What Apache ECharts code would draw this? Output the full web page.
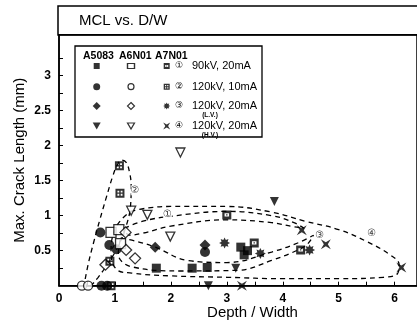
<!DOCTYPE html>
<html><head><meta charset="utf-8">
<script src="https://cdn.jsdelivr.net/npm/echarts@6/dist/echarts.min.js"></script>
<style>html,body{margin:0;padding:0;background:#fff}#c{width:417px;height:329px}</style>
</head><body><div id="c"></div>
<script>
// ---------- tick labels ----------
const xTickLabels = [0, 1, 2, 3, 4, 5, 6];
const xTickValues = [0.5, 1, 1.5, 2, 2.5, 3, 3.5, 4, 4.5, 5, 5.5, 6];
const yTickLabels = [0.5, 1, 1.5, 2, 2.5, 3];
const yTickValues = [0.25, 0.5, 0.75, 1, 1.25, 1.5, 1.75, 2, 2.25, 2.5, 2.75, 3, 3.25];

// ---------- data [Depth/Width, Max crack length] ----------
// A5083 (filled)
const a5083_c1 = [[1.74,0.25],[2.38,0.25],[2.65,0.26],[3.25,0.55],[3.31,0.44],[3.37,0.5]];
const a5083_c2 = [[0.74,0.76],[0.90,0.58],[1.03,0.52],[0.76,0.0],[0.86,0.0],[2.61,0.48]];
const a5083_c3 = [[1.72,0.55],[2.61,0.58]];
const a5083_c4 = [[3.85,1.20],[3.16,0.25],[2.67,0.0]];
// A6N01 (hollow)
const a6n01_c1 = [[0.93,0.76],[1.07,0.80],[1.10,0.60]];
const a6n01_c2 = [[0.41,0.0],[0.52,0.0]];
const a6n01_c3 = [[1.19,0.76],[1.20,0.51],[1.36,0.39],[0.83,0.30]];
const a6n01_c4 = [[2.17,1.90],[1.29,1.07],[1.58,1.01],[1.99,0.70]];
// A7N01 (patterned)
const a7n01_c1 = [[3.00,1.01],[3.49,0.61],[4.32,0.51]];
const a7n01_c2 = [[1.08,1.71],[1.09,1.32],[0.91,0.35],[0.93,0.0]];
const a7n01_c3 = [[2.96,0.61],[3.60,0.46],[4.48,0.51]];
const a7n01_c4 = [[4.34,0.79],[4.77,0.59],[6.12,0.26],[3.27,0.0]];

// ---------- dashed grouping curves ----------
const curve2 = [[0.44,-0.03],[0.52,0.3],[0.62,0.62],[0.73,0.94],[0.85,1.27],[0.96,1.56],[1.04,1.72],[1.12,1.79],[1.2,1.76],[1.26,1.62],[1.29,1.42],[1.28,1.15],[1.2,0.85],[1.05,0.55],[0.86,0.3],[0.7,0.12],[0.58,0.01],[0.48,-0.03],[0.44,-0.03]];
const curve1 = [[1.17,0.82],[1.5,0.92],[2.0,0.99],[3.0,1.06],[3.8,1.0],[4.2,0.9],[4.38,0.82],[4.2,0.84],[3.8,0.9],[3.0,0.94],[2.0,0.85],[1.5,0.75],[1.25,0.72],[1.17,0.82]];
const curve3 = [[1.1,0.68],[1.4,0.63],[1.72,0.55],[2.3,0.36],[3.0,0.33],[3.8,0.48],[4.3,0.62],[4.55,0.72],[4.45,0.6],[4.3,0.52],[3.8,0.36],[3.2,0.22],[2.2,0.21],[1.3,0.27],[1.06,0.45],[1.1,0.68]];
const curve4 = [[1.28,1.06],[1.6,1.11],[2.0,1.13],[3.0,1.13],[3.8,1.05],[4.4,0.92],[5.0,0.8],[5.5,0.63],[5.9,0.45],[6.08,0.3],[6.05,0.17],[5.8,0.12],[5.0,0.1],[4.0,0.1],[3.0,0.12],[2.0,0.14],[1.3,0.18],[1.02,0.24],[0.93,0.5],[1.03,0.85],[1.28,1.06]];
const curveLabels = [['②',1.36,1.36],['①',1.94,1.01],['③',4.66,0.72],['④',5.59,0.75]];

// ---------- legend text ----------
const legendHeads = ['A5083','A6N01','A7N01'];
const legendNums = ['①','②','③','④'];
const legendTexts = ['90kV, 20mA','120kV, 10mA','120kV, 20mA','120kV, 20mA'];
const legendSubs = ['','','(L.V.)','(H.V.)'];

// ---------- symbols ----------
const SYM = {
  p1: 'path://M0,0H10V10H0Z M2.5,3.2V6.8H7.5V3.2Z M4.2,4.3H5.8V5.7H4.2Z',
  p2: 'path://M0,0H10V10H0Z M2.2,2.2V4.2H4.2V2.2Z M5.8,2.2V4.2H7.8V2.2Z M2.2,5.8V7.8H4.2V5.8Z M5.8,5.8V7.8H7.8V5.8Z',
  p3: 'path://M10,5L7.77,6.15L8.54,8.54L6.15,7.77L5,10L3.85,7.77L1.46,8.54L2.23,6.15L0,5L2.23,3.85L1.46,1.46L3.85,2.23L5,0L6.15,2.23L8.54,1.46L7.77,3.85Z',
  p4: 'path://M0,0L5,3L10,0L7,5L10,10L5,7L0,10L3,5Z'
};
const styles = [
  // [symbol, size, hollow, rotate]
  [['rect',9,false,0],['circle',10,false,0],['diamond',11,false,0],['triangle',9,false,180]],
  [['rect',10,true,0],['circle',9,true,0],['diamond',11,true,0],['triangle',9,true,180]],
  [[SYM.p1,9,false,0],[SYM.p2,9,false,0],[SYM.p3,11,false,0],[SYM.p4,10,false,0]]
];
const legendSizes = [[6,7,8,[8,7]],[[7,5],6,7,[7,6]],[6,6,7,7]];
const groups = [
  [a5083_c1,a5083_c2,a5083_c3,a5083_c4],
  [a6n01_c1,a6n01_c2,a6n01_c3,a6n01_c4],
  [a7n01_c1,a7n01_c2,a7n01_c3,a7n01_c4]
];

const FONT = 'Liberation Sans, Arial, sans-serif';
const series = [];
function curveSeries(d){
  return {type:'line', data:d, smooth:0.4, symbol:'none', silent:true, z:1, clip:true,
    lineStyle:{color:'#000', width:1.3, type:[5,4]}};
}
[curve1,curve2,curve3,curve4].forEach(c=>series.push(curveSeries(c)));
series.push({type:'scatter', data:curveLabels.map(l=>({name:l[0], value:[l[1],l[2]]})),
  symbolSize:0, silent:true, z:3,
  label:{show:true, position:'inside', formatter:'{b}', fontFamily:'DejaVu Sans', fontSize:10,
    color:'#000', backgroundColor:'#fff', padding:[0,0]}});

function mkScatter(data, st, xi, yi, z, bw){
  return {type:'scatter', data:data, xAxisIndex:xi, yAxisIndex:yi, symbol:st[0], symbolSize:st[1],
    symbolRotate:st[3], silent:true, z:z,
    itemStyle: st[2] ? {color:'#fff', borderColor:'#000', borderWidth:bw} : {color:'#000'}};
}
groups.forEach((g,gi)=>g.forEach((d,ci)=>series.push(mkScatter(d, styles[gi][ci], 0, 0, 5, 1.3))));

// legend symbols in a small helper grid (cols: materials, rows: conditions)
const LG = {left:75, top:46, width:187, height:91};
const legColX = [21.7, 56, 91.7];
const legRowY = [20, 40.7, 60, 80];
groups.forEach((g,gi)=>g.forEach((d,ci)=>{
  const st = styles[gi][ci].slice();
  st[1] = legendSizes[gi][ci];
  series.push(mkScatter([[legColX[gi], legRowY[ci]]], st, 1, 1, 5, 1.2));
}));

const graphic = [
  {type:'rect', shape:{x:58, y:6, width:380, height:29}, style:{fill:'none', stroke:'#000', lineWidth:1.5}, z:10},
  {type:'text', x:79, y:21, style:{text:'MCL vs. D/W', font:'15px '+FONT, fill:'#000', textVerticalAlign:'middle'}, z:10},
  {type:'rect', shape:{x:LG.left, y:LG.top, width:LG.width, height:LG.height}, style:{fill:'#fff', stroke:'#000', lineWidth:1.3}, z:2}
];
const headX = [83, 119, 155];
legendHeads.forEach((h,i)=>graphic.push({type:'text', x:headX[i], y:56, z:10,
  style:{text:h, font:'bold 10.5px '+FONT, fill:'#000', textVerticalAlign:'middle'}}));
legendNums.forEach((n,i)=>{
  const y = LG.top + legRowY[i];
  graphic.push({type:'text', x:179, y:y, z:10, style:{text:n, font:'9px DejaVu Sans', fill:'#000', textAlign:'center', textVerticalAlign:'middle'}});
  graphic.push({type:'text', x:192, y:y, z:10, style:{text:legendTexts[i], font:'11px '+FONT, fill:'#000', textVerticalAlign:'middle'}});
  if (legendSubs[i]) graphic.push({type:'text', x:210, y:y+9, z:10, style:{text:legendSubs[i], font:'bold 6.5px '+FONT, fill:'#000', textAlign:'center', textVerticalAlign:'middle'}});
});

const chart = echarts.init(document.getElementById('c'), null, {renderer:'canvas'});
chart.setOption({
  backgroundColor:'#fff',
  animation:false,
  graphic: graphic,
  grid:[
    {left:59, top:34.7, width:361.6, height:251, show:true, borderColor:'#000', borderWidth:1.5, backgroundColor:'transparent'},
    {left:LG.left, top:LG.top, width:LG.width, height:LG.height, show:false}
  ],
  xAxis:[
    {type:'value', gridIndex:0, min:0, max:6.4,
     name:'Depth / Width', nameLocation:'middle', nameGap:20, nameMoveOverlap:false,
     nameTextStyle:{fontFamily:FONT, fontSize:15, color:'#000', padding:[0,0,0,29]},
     axisLine:{show:true, lineStyle:{color:'#000', width:1.5}},
     axisTick:{show:true, inside:true, length:4, customValues:xTickValues, lineStyle:{color:'#000', width:1}},
     axisLabel:{customValues:xTickLabels, margin:7, fontFamily:FONT, fontSize:12, fontWeight:'bold', color:'#000'},
     splitLine:{show:false}},
    {type:'value', gridIndex:1, min:0, max:LG.width, show:false}
  ],
  yAxis:[
    {type:'value', gridIndex:0, min:0, max:3.58,
     name:'Max. Crack Length (mm)', nameLocation:'middle', nameGap:32, nameMoveOverlap:false,
     nameTextStyle:{fontFamily:FONT, fontSize:15, color:'#000'},
     axisLine:{show:true, lineStyle:{color:'#000', width:1.5}},
     axisTick:{show:true, inside:true, length:4, customValues:yTickValues, lineStyle:{color:'#000', width:1}},
     axisLabel:{customValues:yTickLabels, margin:8, fontFamily:FONT, fontSize:12, fontWeight:'bold', color:'#000'},
     splitLine:{show:false}},
    {type:'value', gridIndex:1, min:0, max:LG.height, inverse:true, show:false}
  ],
  series: series
});
</script></body></html>
